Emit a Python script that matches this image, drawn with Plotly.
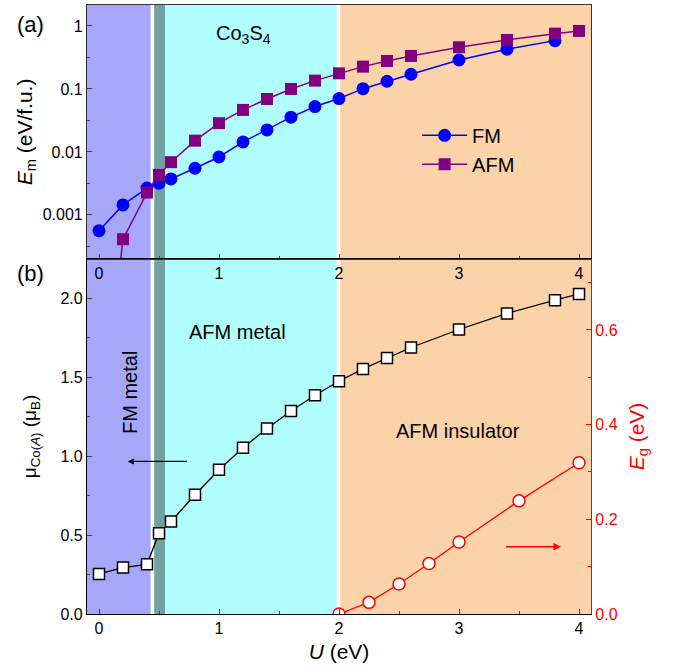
import plotly.graph_objects as go

# ---- data ----
U_fm = [0, 0.2, 0.4, 0.5, 0.6, 0.8, 1.0, 1.2, 1.4, 1.6, 1.8, 2.0, 2.2, 2.4, 2.6, 3.0, 3.4, 3.8]
Em_fm = [5.6e-4, 1.44e-3, 2.66e-3, 3.18e-3, 3.73e-3, 5.5e-3, 8.3e-3, 0.0144, 0.0223, 0.0356,
         0.0525, 0.0703, 0.101, 0.1325, 0.171, 0.288, 0.427, 0.585]
U_afm = [0, 0.2, 0.4, 0.5, 0.6, 0.8, 1.0, 1.2, 1.4, 1.6, 1.8, 2.0, 2.2, 2.4, 2.6, 3.0, 3.4, 3.8, 4.0]
Em_afm = [2e-7, 4.1e-4, 2.26e-3, 4.31e-3, 6.87e-3, 0.0151, 0.0286, 0.0464, 0.0693, 0.100, 0.1355,
          0.177, 0.226, 0.278, 0.334, 0.459, 0.600, 0.755, 0.834]
U_mu = [0, 0.2, 0.4, 0.5, 0.6, 0.8, 1.0, 1.2, 1.4, 1.6, 1.8, 2.0, 2.2, 2.4, 2.6, 3.0, 3.4, 3.8, 4.0]
mu_co = [0.254, 0.294, 0.315, 0.512, 0.586, 0.756, 0.914, 1.054, 1.175, 1.287, 1.386, 1.475,
         1.553, 1.623, 1.689, 1.803, 1.905, 1.989, 2.028]
U_eg = [2.0, 2.25, 2.5, 2.75, 3.0, 3.5, 4.0]
Eg = [0.0, 0.0246, 0.0634, 0.1065, 0.152, 0.239, 0.3196]

# phase regions (U ranges)
regions = [(-0.1, 0.43, "#A7A7FA"), (0.46, 0.55, "#70A2A2"), (0.55, 1.98, "#AFFDFD"), (2.01, 4.1, "#FCD3A9")]

FONT = "Liberation Sans, Arial, sans-serif"
fig = go.Figure()

fig.add_trace(go.Scatter(x=U_fm, y=Em_fm, mode="lines+markers", name="FM",
                         line=dict(color="#0000FF", width=1.5),
                         marker=dict(symbol="circle", size=13, color="#0000FF"),
                         xaxis="x", yaxis="y"))
fig.add_trace(go.Scatter(x=U_afm, y=Em_afm, mode="lines+markers", name="AFM",
                         line=dict(color="#800080", width=1.5),
                         marker=dict(symbol="square", size=12, color="#800080"),
                         xaxis="x", yaxis="y"))
fig.add_trace(go.Scatter(x=U_mu, y=mu_co, mode="lines+markers", showlegend=False,
                         line=dict(color="black", width=1.3),
                         marker=dict(symbol="square", size=11, color="white",
                                     line=dict(color="black", width=1.5)),
                         xaxis="x2", yaxis="y2"))
fig.add_trace(go.Scatter(x=U_eg, y=Eg, mode="lines+markers", showlegend=False,
                         line=dict(color="#FF0000", width=1.3),
                         marker=dict(symbol="circle", size=12, color="white",
                                     line=dict(color="#FF0000", width=1.5)),
                         xaxis="x2", yaxis="y3"))

shapes = []
for x0, x1, c in regions:
    shapes.append(dict(type="rect", xref="x", yref="paper", x0=x0, x1=x1, y0=0, y1=1,
                       fillcolor=c, line=dict(width=0), layer="below"))
fig.update_layout(shapes=shapes)

tickfont = dict(family=FONT, size=16, color="black")
split = 0.583
axcommon = dict(showgrid=False, zeroline=False, showline=True, linewidth=1.2, ticks="inside",
                ticklen=5, tickfont=tickfont)

fig.update_layout(
    width=674, height=671,
    margin=dict(l=87, r=83, t=5, b=57),
    paper_bgcolor="white", plot_bgcolor="rgba(0,0,0,0)",
    font=dict(family=FONT, size=16, color="black"),
    xaxis=dict(domain=[0, 1], anchor="y", range=[-0.1, 4.1], tickvals=[0, 1, 2, 3, 4],
               mirror=True, linecolor="#333333",
               minor=dict(ticks="inside", dtick=0.5, tick0=0, ticklen=3), **axcommon),
    yaxis=dict(domain=[split, 1], anchor="x", type="log", range=[-3.7, 0.333],
               tickvals=[0.001, 0.01, 0.1, 1], ticktext=["0.001", "0.01", "0.1", "1"],
               mirror=True, linecolor="#333333",
               minor=dict(ticks="inside", tickvals=[3.162e-4, 3.162e-3, 0.03162, 0.3162], ticklen=3),
               title=dict(text="<i>E</i><sub>m</sub> (eV/f.u.)", font=dict(size=21), standoff=4),
               **axcommon),
    xaxis2=dict(domain=[0, 1], anchor="y2", range=[-0.1, 4.1], tickvals=[0, 1, 2, 3, 4],
                mirror=True, linecolor="black",
                minor=dict(ticks="inside", dtick=0.5, tick0=0, ticklen=3),
                title=dict(text="<i>U</i> (eV)", font=dict(size=21), standoff=8), **axcommon),
    yaxis2=dict(domain=[0, split], anchor="x2", range=[0, 2.25], dtick=0.5, tickformat=".1f",
                linecolor="black",
                minor=dict(ticks="inside", dtick=0.25, ticklen=3),
                title=dict(text="μ<sub>Co(<i>A</i>)</sub> (μ<sub>B</sub>)", font=dict(size=19), standoff=18),
                **axcommon),
    yaxis3=dict(overlaying="y2", side="right", anchor="x2", range=[0, 0.75], dtick=0.2,
                tickformat=".1f", showgrid=False, zeroline=False, showline=True, linewidth=1.2,
                linecolor="#FF0000", ticks="inside", ticklen=5, tickcolor="#FF0000",
                tickfont=dict(family=FONT, size=16, color="#FF0000"),
                minor=dict(ticks="inside", dtick=0.1, ticklen=3, tickcolor="#FF0000"),
                title=dict(text="<i>E</i><sub>g</sub> (eV)", font=dict(size=21, color="#FF0000"), standoff=12)),
    legend=dict(x=0.655, y=0.818, xanchor="left", yanchor="top", bgcolor="rgba(0,0,0,0)",
                font=dict(family=FONT, size=20), itemwidth=45),
)

def px(x):
    return (x - 87) / 503.7

def py(y):
    return (614 - y) / 609

ann = [
    dict(text="(a)", x=px(31), y=py(25), size=22),
    dict(text="(b)", x=px(31), y=py(273), size=22),
    dict(text="Co<sub>3</sub>S<sub>4</sub>", x=px(243), y=py(34), size=20),
    dict(text="AFM metal", x=px(237), y=py(332), size=20),
    dict(text="AFM insulator", x=px(458), y=py(431), size=20),
]
for a in ann:
    fig.add_annotation(text=a["text"], x=a["x"], y=a["y"], xref="paper", yref="paper",
                       showarrow=False, font=dict(family=FONT, size=a["size"], color="black"),
                       xanchor="center", yanchor="middle")
fig.add_annotation(text="FM metal", x=px(117), y=py(393), xref="paper", yref="paper",
                   showarrow=False, textangle=-90, font=dict(family=FONT, size=20, color="black"))

# arrows
fig.add_annotation(x=0.24, y=0.967, ax=0.745, ay=0.967, xref="x2", yref="y2", axref="x2", ayref="y2",
                   text="", showarrow=True, arrowhead=2, arrowsize=1, arrowwidth=1.2, arrowcolor="black")
fig.add_annotation(x=3.85, y=0.142, ax=3.38, ay=0.142, xref="x2", yref="y3", axref="x2", ayref="y3",
                   text="", showarrow=True, arrowhead=2, arrowsize=1, arrowwidth=1.5, arrowcolor="#FF0000")

fig.write_html("out.html")
